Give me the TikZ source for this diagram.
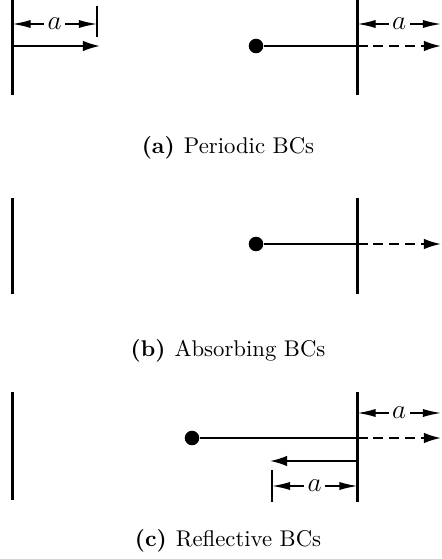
\documentclass[tikz,border=0pt]{standalone}
\usepackage{tikz}
\usetikzlibrary{arrows.meta,positioning,calc}

\begin{document}
\begin{tikzpicture}[x=0.44pt,y=-0.44pt,>=Latex,
wall/.style={line width=1.1pt},
track/.style={line width=0.8pt},
jump/.style={line width=0.8pt,dash pattern=on 4.4pt off 2.6pt,-{Latex[length=7.5pt,width=4.6pt]}},
move/.style={line width=0.8pt,-{Latex[length=7.5pt,width=4.6pt]}},
dim/.style={line width=0.6pt,{Latex[length=8pt,width=3.6pt]}-{Latex[length=8pt,width=3.6pt]}},
lbl/.style={fill=white,inner sep=1.5pt,font=\large},
walker/.style={circle,fill=black,inner sep=0pt,minimum size=6.4pt},
subcap/.style={font=\normalsize}]
\useasboundingbox (0,0) rectangle (441,559);
% (a) periodic
\coordinate (aLtop) at (12.5,0);
\coordinate (aLbot) at (12.5,95);
\coordinate (aRtop) at (357.5,0);
\coordinate (aRbot) at (357.5,95);
\coordinate (aTickTop) at (97,6);
\coordinate (aTickBot) at (97,37);
\coordinate (aDimL) at (12.5,24);
\coordinate (aDimLend) at (97,24);
\coordinate (aDimR) at (357.5,24);
\coordinate (aDimRend) at (441,24);
\coordinate (aIn) at (12.5,46);
\coordinate (aInEnd) at (100,46);
\coordinate (aHit) at (357.5,46);
\coordinate (aOut) at (441,46);
\node[walker] (aDot) at (256,46) {};
\draw[wall] (aLtop) -- (aLbot);
\draw[wall] (aRtop) -- (aRbot);
\draw[track] (aTickTop) -- (aTickBot);
\draw[dim] (aDimL) -- node[lbl]{$a$} (aDimLend);
\draw[dim] (aDimR) -- node[lbl]{$a$} (aDimRend);
\draw[move] (aIn) -- (aInEnd);
\draw[track] (aDot) -- (aHit);
\draw[jump] (aHit) -- (aOut);
\node[subcap] (capA) at (228,148) {\textbf{(a)}\hspace{0.4em}Periodic BCs};
% (b) absorbing
\coordinate (bLtop) at (12.5,198);
\coordinate (bLbot) at (12.5,294);
\coordinate (bRtop) at (357.5,198);
\coordinate (bRbot) at (357.5,294);
\coordinate (bHit) at (357.5,244);
\coordinate (bOut) at (441,244);
\node[walker] (bDot) at (256,244) {};
\draw[wall] (bLtop) -- (bLbot);
\draw[wall] (bRtop) -- (bRbot);
\draw[track] (bDot) -- (bHit);
\draw[jump] (bHit) -- (bOut);
\node[subcap] (capB) at (228,351) {\textbf{(b)}\hspace{0.4em}Absorbing BCs};
% (c) reflective
\coordinate (cLtop) at (12.5,392);
\coordinate (cLbot) at (12.5,500);
\coordinate (cRtop) at (357.5,392);
\coordinate (cRbot) at (357.5,502);
\coordinate (cDimR) at (357.5,413);
\coordinate (cDimRend) at (441,413);
\coordinate (cHit) at (357.5,438);
\coordinate (cOut) at (441,438);
\coordinate (cBack) at (357.5,461);
\coordinate (cBackEnd) at (270,461);
\coordinate (cTickTop) at (272,470);
\coordinate (cTickBot) at (272,502);
\coordinate (cDimB) at (272,486);
\coordinate (cDimBend) at (357.5,486);
\node[walker] (cDot) at (192,438) {};
\draw[wall] (cLtop) -- (cLbot);
\draw[wall] (cRtop) -- (cRbot);
\draw[dim] (cDimR) -- node[lbl]{$a$} (cDimRend);
\draw[track] (cDot) -- (cHit);
\draw[jump] (cHit) -- (cOut);
\draw[move] (cBack) -- (cBackEnd);
\draw[track] (cTickTop) -- (cTickBot);
\draw[dim] (cDimB) -- node[lbl]{$a$} (cDimBend);
\node[subcap] (capC) at (228,541) {\textbf{(c)}\hspace{0.4em}Reflective BCs};
\end{tikzpicture}
\end{document}
